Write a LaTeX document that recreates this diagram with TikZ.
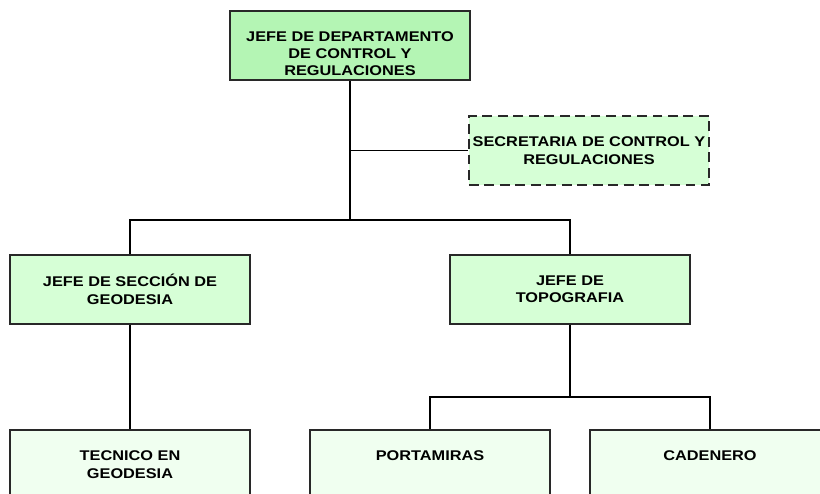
\documentclass[tikz,border=0pt]{standalone}
\usepackage{fontspec}
\setmainfont{Liberation Sans}[FakeStretch=1.16]
\usepackage{tikz}
\usetikzlibrary{positioning, calc}
\definecolor{headgreen}{RGB}{180,245,180}
\definecolor{midgreen}{RGB}{214,255,214}
\definecolor{lowgreen}{RGB}{240,255,240}
\definecolor{boxline}{RGB}{40,40,40}
\tikzset{
  unit/.style={
    rectangle, draw=boxline, line width=0.9pt, minimum width=6cm,
    minimum height=1.725cm, inner sep=1pt, align=center,
    font=\fontsize{10}{12.4}\selectfont\bfseries
  },
  headunit/.style={unit, fill=headgreen},
  midunit/.style={unit, fill=midgreen},
  lowunit/.style={unit, fill=lowgreen},
  aideunit/.style={unit, fill=midgreen, line width=1.1pt, dash pattern=on 7pt off 4pt},
  link/.style={draw=black, line width=0.9pt},
  sidelink/.style={draw=black, line width=0.7pt},
}

\begin{document}
\begin{tikzpicture}[x=0.025cm, y=-0.025cm]
  \useasboundingbox (0,0) rectangle (820,493);

  % Head
  \node[headunit] (jefe) at (350,45.5) {\rule{0pt}{18.6pt}JEFE DE DEPARTAMENTO\\DE CONTROL Y\\REGULACIONES};
  \node[aideunit] (secre) at (589,150.5) {SECRETARIA DE CONTROL Y\\REGULACIONES};

  % Sections
  \node[midunit] (geo) at (130,289.5) {JEFE DE SECCIÓN DE\\GEODESIA};
  \node[midunit] (topo) at (570,289.5) {JEFE DE\\TOPOGRAFIA};

  % Staff (last box runs past the right edge)
  \node[lowunit] (tecnico) at (130,464.5) {TECNICO EN\\GEODESIA};
  \node[lowunit] (porta) at (430,464.5) {PORTAMIRAS\\\mbox{}};
  \node[lowunit, minimum width=6.5cm] (cade) at (720,464.5) {\hspace*{-0.5cm}CADENERO\\\mbox{}};

  % Links
  \coordinate (split) at (350,220);
  \coordinate (splitlow) at (570,397);
  \draw[link] (jefe) -- (split);
  \draw[sidelink] (secre.west) -- (secre.west -| jefe.south);
  \draw[link] (split) -| (geo);
  \draw[link] (split) -| (topo);
  \draw[link] (geo) -- (tecnico);
  \draw[link] (topo) -- (splitlow);
  \draw[link] (splitlow) -| (porta);
  \draw[link] (splitlow) -| ([xshift=-0.25cm]cade.north);

\end{tikzpicture}
\end{document}
